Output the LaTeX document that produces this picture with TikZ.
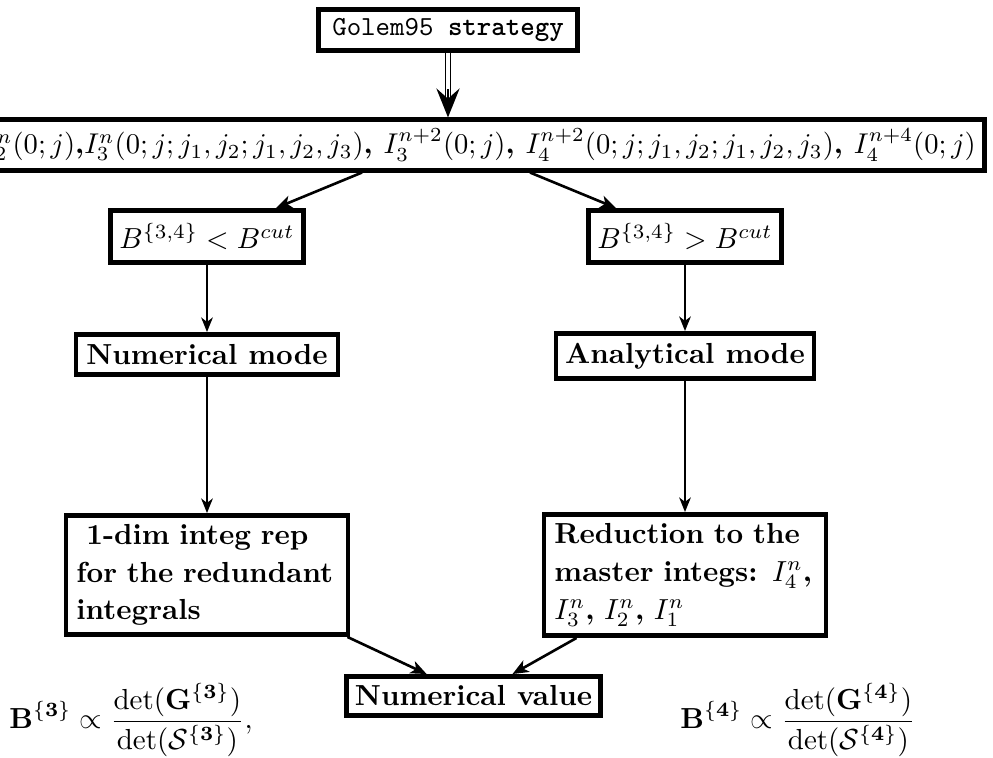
\documentclass[tikz,border=0pt]{standalone}
\usetikzlibrary{arrows.meta,calc}
\newcommand\pxu{0.3448pt}
\begin{document}
\begin{tikzpicture}[x=0.3448pt,y=-0.3448pt,
  box/.style={draw, line width=1.7pt, inner sep=3pt, font=\bfseries},
  arr/.style={-{Stealth[length=5pt,width=4pt,inset=1.5pt]}, line width=0.7pt},
  arrd/.style={-{Stealth[length=5.5pt,width=4.5pt,inset=1.5pt]}, line width=0.9pt},
  para/.style={box, text width=90pt, align=left, font=\bfseries\fontsize{10}{13}\selectfont},
]
\useasboundingbox (0,0) rectangle (993,758);
\clip (0,0) rectangle (993,758);

\node[box, minimum width=259*\pxu, minimum height=39*\pxu, font=\ttfamily\fontsize{9.5}{11}\selectfont] (golem) at (448,30) {Golem95 {\bfseries strategy}};

\node[box, anchor=east, minimum height=49*\pxu] (wide) at (987,145)
  {\scalebox{0.985}{$I_2^n(0;j)$,$I_3^n(0;j;j_1,j_2;j_1,j_2,j_3)$, $I_3^{n+2}(0;j)$, $I_4^{n+2}(0;j;j_1,j_2;j_1,j_2,j_3)$, $I_4^{n+4}(0;j)$}};

\node[box, minimum width=188*\pxu, minimum height=52*\pxu] (bl) at (207,236.5) {$B^{\{3,4\}} < B^{cut}$};
\node[box, minimum width=187*\pxu, minimum height=52*\pxu] (br) at (685,236.5) {$B^{\{3,4\}} > B^{cut}$};

\node[box, minimum width=262*\pxu, minimum height=40*\pxu] (nm) at (207,354.5) {Numerical mode};
\node[box, minimum width=258*\pxu, minimum height=45*\pxu] (am) at (685,356) {Analytical mode};

\node[para, minimum width=282*\pxu, minimum height=119*\pxu] (lb) at (207,575)
  {\hspace*{3.4pt}1-dim integ rep\\for the redundant\\integrals};
\node[para, minimum width=282*\pxu, minimum height=121*\pxu] (rb) at (685,575)
  {Reduction to the\\master integs: $I_4^n$,\\$I_3^n$, $I_2^n$, $I_1^n$};

\node[box, minimum width=254*\pxu, minimum height=39*\pxu] (nv) at (473.5,696) {Numerical value};

\node (fl) at (131,720) {$\displaystyle \mathbf{B}^{\{\mathbf{3}\}} \propto \frac{\det(\mathbf{G}^{\{\mathbf{3}\}})}{\det(\mathcal{S}^{\{\mathbf{3}\}})},$};
\node (fr) at (798,720) {$\displaystyle \mathbf{B}^{\{\mathbf{4}\}} \propto \frac{\det(\mathbf{G}^{\{\mathbf{4}\}})}{\det(\mathcal{S}^{\{\mathbf{4}\}})}$};

% double arrow
\draw[line width=0.5pt, double, double distance=1.3pt, shorten >=5pt] (golem.south) -- (golem.south |- wide.north);
\draw[-{Stealth[length=10pt,width=8pt,inset=3.5pt]}, line width=0.8pt, shorten <=12.5pt] (golem.south) -- (golem.south |- wide.north);

\coordinate (wl) at (362,0);
\coordinate (wr) at (530,0);
\draw[arrd] (wide.south -| wl) -- (bl);
\draw[arrd] (wide.south -| wr) -- (br);
\draw[arr] (bl) -- (nm);
\draw[arr] (br) -- (am);
\draw[arr] (nm) -- (lb);
\draw[arr] (am) -- (rb);
\draw[arrd] ([xshift=-3*\pxu]lb.south east) -- (nv);
\draw[arrd] ([xshift=35*\pxu]rb.south west) -- (nv);
\end{tikzpicture}
\end{document}
